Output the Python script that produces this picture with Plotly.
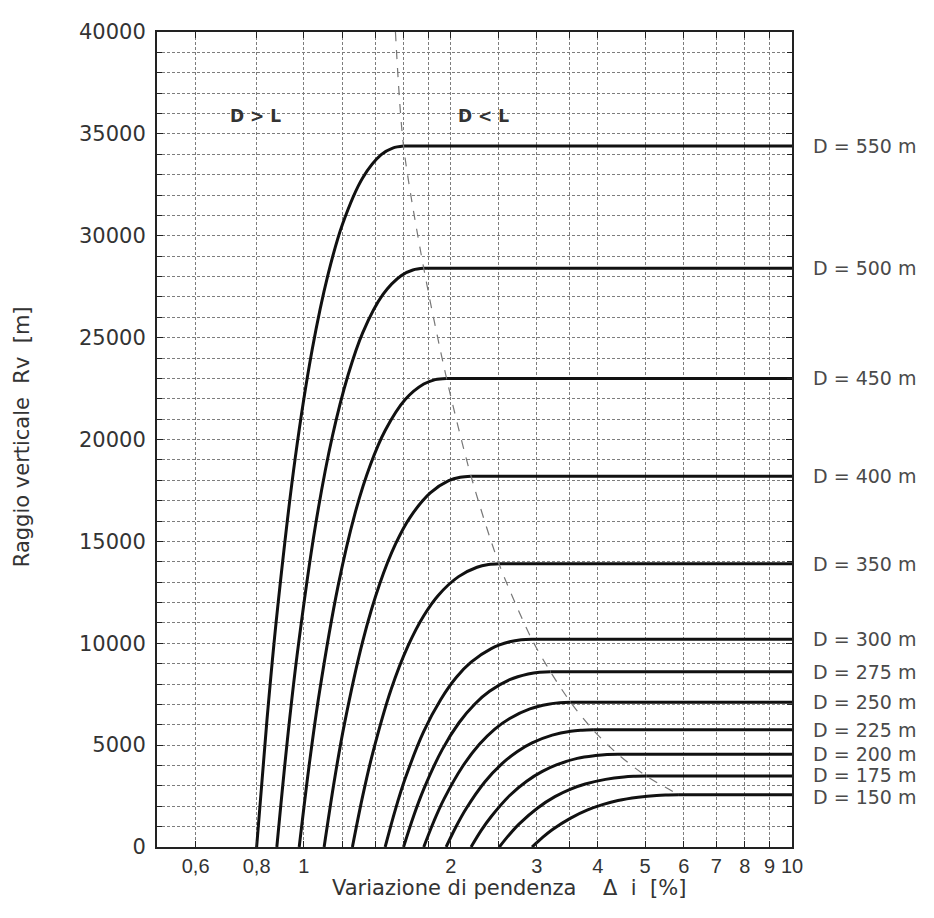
import math
import plotly.graph_objects as go

# plateau radius for each sight distance D
D_labels = ["D = 550 m", "D = 500 m", "D = 450 m", "D = 400 m", "D = 350 m", "D = 300 m",
            "D = 275 m", "D = 250 m", "D = 225 m", "D = 200 m", "D = 175 m", "D = 150 m"]
plateau_rv = [34400, 28400, 23000, 18200, 13900, 10200, 8600, 7100, 5750, 4550, 3480, 2560]
# where the right-hand labels sit (the lower ones are spread a little)
label_rv = [34400, 28400, 23000, 18200, 13900, 10200, 8600, 7100, 5750, 4580, 3530, 2450]

# curves: delta i [%] and Rv [m]
di_550 = [0.80, 0.84, 0.88, 0.96, 1.04, 1.12, 1.20, 1.32, 1.44, 1.52, 1.60, 10]
rv_550 = [0, 6240, 11370, 19110, 24430, 28080, 30580, 32850, 33980, 34300, 34400, 34400]
di_500 = [0.88, 0.924, 0.968, 1.056, 1.144, 1.232, 1.32, 1.452, 1.584, 1.672, 1.76, 10]
rv_500 = [0, 5150, 9390, 15780, 20170, 23180, 25250, 27120, 28050, 28320, 28400, 28400]
di_450 = [0.978, 1.027, 1.076, 1.174, 1.271, 1.369, 1.467, 1.614, 1.760, 1.858, 1.956, 10]
rv_450 = [0, 4170, 7600, 12780, 16330, 18770, 20440, 21970, 22720, 22940, 23000, 23000]
di_400 = [1.10, 1.155, 1.21, 1.32, 1.43, 1.54, 1.65, 1.815, 1.98, 2.09, 2.20, 10]
rv_400 = [0, 3300, 6020, 10110, 12920, 14860, 16180, 17380, 17980, 18150, 18200, 18200]
di_350 = [1.257, 1.320, 1.383, 1.508, 1.634, 1.760, 1.886, 2.074, 2.263, 2.388, 2.514, 10]
rv_350 = [0, 2520, 4600, 7720, 9870, 11350, 12360, 13270, 13730, 13860, 13900, 13900]
di_300 = [1.467, 1.540, 1.613, 1.760, 1.907, 2.053, 2.200, 2.420, 2.640, 2.787, 2.933, 10]
rv_300 = [0, 1850, 3370, 5670, 7240, 8330, 9070, 9740, 10070, 10170, 10200, 10200]
di_275 = [1.60, 1.68, 1.76, 1.92, 2.08, 2.24, 2.40, 2.64, 2.88, 3.04, 3.20, 10]
rv_275 = [0, 1560, 2840, 4780, 6110, 7020, 7640, 8210, 8490, 8580, 8600, 8600]
di_250 = [1.76, 1.848, 1.936, 2.112, 2.288, 2.464, 2.64, 2.904, 3.168, 3.344, 3.52, 10]
rv_250 = [0, 1290, 2350, 3940, 5040, 5800, 6310, 6780, 7010, 7080, 7100, 7100]
di_225 = [1.956, 2.054, 2.152, 2.347, 2.543, 2.738, 2.934, 3.227, 3.521, 3.716, 3.912, 10]
rv_225 = [0, 1040, 1900, 3190, 4080, 4690, 5110, 5490, 5680, 5730, 5750, 5750]
di_200 = [2.20, 2.31, 2.42, 2.64, 2.86, 3.08, 3.30, 3.63, 3.96, 4.18, 4.40, 10]
rv_200 = [0, 830, 1500, 2530, 3230, 3710, 4040, 4350, 4490, 4540, 4550, 4550]
di_175 = [2.514, 2.640, 2.765, 3.017, 3.268, 3.520, 3.771, 4.148, 4.525, 4.777, 5.028, 10]
rv_175 = [0, 630, 1150, 1930, 2470, 2840, 3090, 3320, 3440, 3470, 3480, 3480]
di_150 = [2.933, 3.080, 3.226, 3.520, 3.813, 4.106, 4.400, 4.839, 5.279, 5.573, 5.866, 10]
rv_150 = [0, 460, 850, 1420, 1820, 2090, 2280, 2440, 2530, 2550, 2560, 2560]

# D = L boundary (dashed)
bound_di = [1.54, 1.60, 1.76, 1.96, 2.20, 2.51, 2.93, 3.20, 3.52, 3.91, 4.40, 5.03, 5.87]
bound_rv = [40000, 34400, 28400, 23000, 18200, 13900, 10200, 8600, 7100, 5750, 4550, 3480, 2560]

# region labels
region_text = ["<b>D > L</b>", "<b>D < L</b>"]
region_di = [0.794, 2.33]
region_rv = [35900, 35900]

# x axis ticks / grid
x_tickvals = [0.6, 0.8, 1, 1.2, 1.4, 1.6, 1.8, 2, 2.5, 3, 3.5, 4, 5, 6, 7, 8, 9, 10]
x_ticktext = ["0,6", "0,8", "1", "", "", "", "", "2", "", "3", "", "4", "5", "6", "7", "8", "9", "10"]

curves = [(di_550, rv_550), (di_500, rv_500), (di_450, rv_450), (di_400, rv_400),
          (di_350, rv_350), (di_300, rv_300), (di_275, rv_275), (di_250, rv_250),
          (di_225, rv_225), (di_200, rv_200), (di_175, rv_175), (di_150, rv_150)]

SANS = "Liberation Sans, Arial, sans-serif"
WIDE = "DejaVu Sans, sans-serif"
GRID = "#7d7d7d"
INK = "#222222"

fig = go.Figure()

for (xs, ys), name in zip(curves, D_labels):
    # rising part (D > L) as a smooth curve
    fig.add_trace(go.Scatter(
        x=xs[:-1], y=ys[:-1], mode="lines", name=name,
        line=dict(color="#111111", width=3, shape="spline", smoothing=1),
        hoverinfo="skip",
    ))
    # flat part (D < L)
    fig.add_trace(go.Scatter(
        x=xs[-2:], y=ys[-2:], mode="lines", name=name,
        line=dict(color="#111111", width=3),
        hoverinfo="skip",
    ))

fig.add_trace(go.Scatter(
    x=bound_di, y=bound_rv, mode="lines", name="D = L",
    line=dict(color="#777777", width=1.2, dash="dash", shape="spline", smoothing=0.8),
    hoverinfo="skip",
))

# labels on the right, one per plateau
for name, rv in zip(D_labels, label_rv):
    fig.add_annotation(x=1.03, xref="paper", y=rv, yref="y", text=name,
                       showarrow=False, xanchor="left", yanchor="middle",
                       font=dict(size=19, color="#4a4a4a", family=WIDE))

for txt, di, rv in zip(region_text, region_di, region_rv):
    fig.add_annotation(x=math.log10(di), y=rv, text=txt, showarrow=False,
                       xref="x", yref="y", font=dict(size=17, color="#333333", family=WIDE))

# axis titles
fig.add_annotation(x=0.2724, y=-0.0497, xref="paper", yref="paper", xanchor="left", yanchor="middle",
                   text="Variazione di pendenza\u00a0\u00a0\u00a0\u00a0\u0394\u00a0\u00a0i\u00a0\u00a0[%]",
                   showarrow=False, font=dict(size=21, color="#333333", family=WIDE))
fig.add_annotation(x=-0.2126, y=0.504, xref="paper", yref="paper", xanchor="center", yanchor="middle",
                   textangle=-90, text="Raggio verticale\u00a0\u00a0Rv\u00a0\u00a0[m]",
                   showarrow=False, font=dict(size=21, color="#333333", family=WIDE))

fig.update_layout(
    width=918, height=902,
    margin=dict(l=149, r=134, t=14, b=63),
    plot_bgcolor="white", paper_bgcolor="white",
    showlegend=False,
    font=dict(family=SANS, size=15, color=INK),
    xaxis=dict(
        type="log", range=[-0.30103, 1],
        tickvals=x_tickvals, ticktext=x_ticktext,
        tickfont=dict(family=SANS, size=20, color="#333333"),
        ticks="inside", ticklen=6, tickcolor=INK,
        showgrid=True, gridcolor=GRID, griddash="3px,2px", gridwidth=1,
        showline=True, linecolor=INK, linewidth=2, mirror="ticks",
        zeroline=False,
    ),
    yaxis=dict(
        range=[0, 40000], dtick=5000, tickformat="d",
        tickfont=dict(family=WIDE, size=21, color="#333333"),
        ticklabelstandoff=5,
        ticks="inside", ticklen=6, tickcolor=INK,
        showgrid=True, gridcolor=GRID, griddash="3px,2px", gridwidth=1,
        minor=dict(dtick=1000, ticks="inside", ticklen=5, tickcolor=INK,
                   showgrid=True, gridcolor=GRID, griddash="3px,2px", gridwidth=1),
        showline=True, linecolor=INK, linewidth=2, mirror="ticks",
        zeroline=False,
    ),
)

fig.write_html("out.html")
